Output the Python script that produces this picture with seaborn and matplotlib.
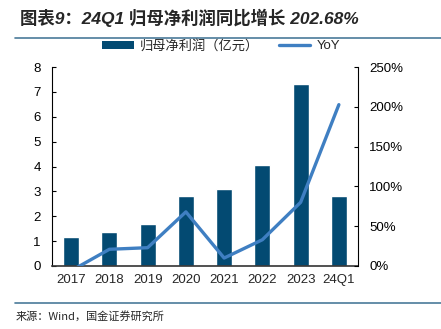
import matplotlib
matplotlib.use("Agg")
import matplotlib.pyplot as plt
import seaborn as sns
import pandas as pd
from matplotlib.lines import Line2D
from matplotlib.patches import Patch

categories = ["2017", "2018", "2019", "2020", "2021", "2022", "2023", "24Q1"]
profit = [1.15, 1.38, 1.68, 2.80, 3.08, 4.05, 7.30, 2.80]
yoy = [-6, 21, 23, 68, 10, 33, 80, 202.68]
left_ticks = [0, 1, 2, 3, 4, 5, 6, 7, 8]
right_ticks = [0, 50, 100, 150, 200, 250]

sns.set_style("white")
plt.rcParams["font.family"] = ["Liberation Sans", "Noto Sans CJK SC", "DejaVu Sans"]

bar_color = "#034a72"
line_color = "#3f7fc2"

df = pd.DataFrame({"cat": categories, "profit": profit, "yoy": yoy})

fig = plt.figure(figsize=(4.41, 3.29), dpi=100)
ax = fig.add_axes([52/441, 1-266/329, (358-52)/441, (266-67)/329])
sns.barplot(data=df, x="cat", y="profit", color=bar_color, width=0.42,
            saturation=1, ax=ax)
ax.set_ylim(0, 8)
ax.set_xlim(-0.5, 7.5)
ax.set_yticks(left_ticks)
ax.set_xlabel("")
ax.set_ylabel("")

ax2 = ax.twinx()
sns.lineplot(x=list(range(len(categories))), y=yoy, color=line_color, linewidth=2.4, ax=ax2)
ax2.set_ylim(0, 250)
ax2.set_yticks(right_ticks)
ax2.set_yticklabels([f"{t}%" for t in right_ticks])
ax.set_xlim(-0.5, 7.5)

ax.spines["top"].set_visible(False)
ax2.spines["top"].set_visible(False)
ax.spines["right"].set_visible(False)
ax2.spines["left"].set_visible(False)
ax2.spines["bottom"].set_visible(False)
ax.spines["left"].set_color("black")
ax.spines["left"].set_linewidth(0.8)
ax2.spines["right"].set_color("black")
ax2.spines["right"].set_linewidth(0.8)
ax.spines["bottom"].set_color("#333333")
ax.spines["bottom"].set_linewidth(1.2)

ax.tick_params(axis="y", direction="in", length=3, width=0.8, labelsize=9.5, pad=8, colors="black")
ax2.tick_params(axis="y", direction="in", length=3, width=0.8, labelsize=9.5, pad=8, colors="black")
ax.set_xticks(range(len(categories)))
ax.set_xticklabels(categories)
ax.tick_params(axis="x", length=0, labelsize=9.5, pad=6)
ax.set_xticks([i + 0.5 for i in range(len(categories) - 1)], minor=True)
ax.tick_params(axis="x", which="minor", direction="in", length=3, width=0.8, color="black")

handles = [Patch(facecolor=bar_color, edgecolor="none"),
           Line2D([0], [0], color=line_color, linewidth=2.4)]
fig.legend(handles, ["归母净利润（亿元）", "YoY"], loc="center",
           bbox_to_anchor=(221/441, 1-46/329), ncol=2, frameon=False, fontsize=9.5,
           handlelength=2.4, handleheight=0.6, columnspacing=1.5, handletextpad=0.45)

fig.text(20/441, 1-18/329, "图表9：24Q1 归母净利润同比增长 202.68%", fontsize=12.5,
         fontweight="bold", fontstyle="italic", va="center", ha="left",
         family=["Liberation Sans", "Noto Sans CJK SC"])
fig.add_artist(Line2D([15/441, 1.0], [1-38/329, 1-38/329], color="#4a7a9a", linewidth=1.2))
fig.add_artist(Line2D([15/441, 1.0], [1-303/329, 1-303/329], color="#4a7a9a", linewidth=1.2))
fig.text(16/441, 1-316/329, "来源：Wind，国金证券研究所", fontsize=8, va="center", ha="left",
         family=["Noto Sans CJK SC", "Liberation Sans"])

fig.savefig("out.png", dpi=100)
